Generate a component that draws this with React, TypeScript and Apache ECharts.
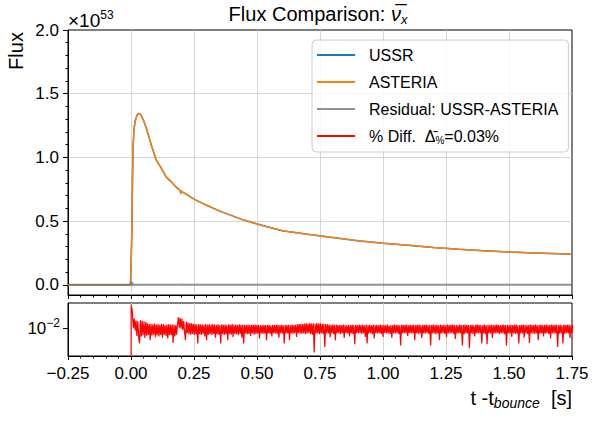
import React, { useEffect, useRef } from 'react';
import * as echarts from 'echarts';

const FONT = '"Liberation Sans", Arial, sans-serif';

// Flux (units of 1e53)
const fluxTime = [-0.25, -0.002, 0.0, 0.003, 0.006, 0.009, 0.012, 0.016, 0.02, 0.025, 0.03, 0.035, 0.04, 0.05, 0.06, 0.07, 0.08, 0.09, 0.1, 0.12, 0.14, 0.16, 0.18, 0.195, 0.198, 0.2, 0.205, 0.22, 0.25, 0.3, 0.35, 0.4, 0.45, 0.5, 0.6, 0.7, 0.8, 0.9, 1.0, 1.1, 1.2, 1.3, 1.4, 1.5, 1.6, 1.7, 1.75];
const fluxASTERIA = [0, 0, 0, 0.35, 0.8, 1.1, 1.22, 1.28, 1.31, 1.335, 1.345, 1.342, 1.33, 1.29, 1.232, 1.17, 1.1, 1.04, 0.98, 0.915, 0.845, 0.808, 0.765, 0.74, 0.715, 0.735, 0.728, 0.71, 0.673, 0.624, 0.58, 0.543, 0.506, 0.478, 0.424, 0.396, 0.371, 0.346, 0.326, 0.31, 0.293, 0.279, 0.268, 0.258, 0.25, 0.243, 0.24];
const fluxUSSR = [0, 0, 0, 0.4, 0.84, 1.12, 1.22, 1.28, 1.31, 1.335, 1.345, 1.342, 1.33, 1.29, 1.232, 1.17, 1.1, 1.04, 0.98, 0.915, 0.845, 0.808, 0.765, 0.74, 0.715, 0.735, 0.728, 0.71, 0.673, 0.624, 0.58, 0.543, 0.506, 0.478, 0.424, 0.396, 0.371, 0.346, 0.326, 0.31, 0.293, 0.279, 0.268, 0.258, 0.25, 0.243, 0.24];

// Residual (units of 1e53)
const residualTime = [-0.25, 0, 0.002, 0.004, 0.007, 0.01, 0.2, 0.202, 0.204, 1.75];
const residualValue = [0, 0, 0.025, -0.01, 0.012, 0, 0, 0.006, 0, 0];

// Percent difference
const diffHeadTime = [0, 0.0006, 0.002, 0.0035];
const diffHeadValue = [0.0001, 0.0228, 0.0185, 0.0205];
const diffStart = 0.006;
const diffStep = 0.0035;
const diffValue = [
  0.0160, 0.0100, 0.0140, 0.0092, 0.0130, 0.0076, 0.0128, 0.0072, 0.0059, 0.0132,
  0.0075, 0.0129, 0.0078, 0.0126, 0.0071, 0.0124, 0.0077, 0.0118, 0.0079, 0.0115,
  0.0066, 0.0116, 0.0077, 0.0114, 0.0080, 0.0117, 0.0073, 0.0113, 0.0078, 0.0115,
  0.0075, 0.0112, 0.0079, 0.0116, 0.0072, 0.0114, 0.0080, 0.0111, 0.0076, 0.0113,
  0.0070, 0.0115, 0.0078, 0.0112, 0.0079, 0.0114, 0.0060, 0.0113, 0.0075, 0.0111,
  0.0080, 0.0114, 0.0146, 0.0102, 0.0143, 0.0098, 0.0139, 0.0094, 0.0128, 0.0088,
  0.0066, 0.0125, 0.0084, 0.0122, 0.0081, 0.0120, 0.0080, 0.0118, 0.0082, 0.0116,
  0.0079, 0.0115, 0.0081, 0.0114, 0.0059, 0.0115, 0.0082, 0.0113, 0.0079, 0.0114,
  0.0082, 0.0112, 0.0075, 0.0115, 0.0066, 0.0113, 0.0080, 0.0114, 0.0081, 0.0112,
  0.0079, 0.0115, 0.0082, 0.0113, 0.0072, 0.0112, 0.0081, 0.0114, 0.0080, 0.0111,
  0.0059, 0.0114, 0.0082, 0.0112, 0.0079, 0.0113, 0.0081, 0.0111, 0.0066, 0.0114,
  0.0082, 0.0112, 0.0080, 0.0115, 0.0074, 0.0112, 0.0082, 0.0113, 0.0081, 0.0111,
  0.0079, 0.0114, 0.0082, 0.0112, 0.0072, 0.0113, 0.0059, 0.0112, 0.0083, 0.0111,
  0.0081, 0.0113, 0.0082, 0.0111, 0.0076, 0.0112, 0.0083, 0.0111, 0.0080, 0.0113,
  0.0082, 0.0111, 0.0083, 0.0112, 0.0070, 0.0111, 0.0084, 0.0110, 0.0082, 0.0112,
  0.0083, 0.0111, 0.0066, 0.0112, 0.0084, 0.0111, 0.0082, 0.0110, 0.0075, 0.0112,
  0.0084, 0.0111, 0.0083, 0.0112, 0.0082, 0.0113, 0.0072, 0.0111, 0.0084, 0.0112,
  0.0083, 0.0110, 0.0059, 0.0112, 0.0084, 0.0111, 0.0083, 0.0112, 0.0066, 0.0111,
  0.0084, 0.0113, 0.0082, 0.0111, 0.0085, 0.0112, 0.0074, 0.0114, 0.0084, 0.0115,
  0.0083, 0.0116, 0.0082, 0.0115, 0.0084, 0.0117, 0.0081, 0.0118, 0.0083, 0.0116,
  0.0084, 0.0119, 0.0082, 0.0117, 0.0080, 0.0118, 0.0043, 0.0116, 0.0084, 0.0119,
  0.0083, 0.0117, 0.0081, 0.0118, 0.0084, 0.0116, 0.0082, 0.0117, 0.0052, 0.0115,
  0.0084, 0.0114, 0.0083, 0.0113, 0.0073, 0.0112, 0.0084, 0.0113, 0.0082, 0.0112,
  0.0066, 0.0113, 0.0084, 0.0111, 0.0083, 0.0112, 0.0082, 0.0110, 0.0084, 0.0113,
  0.0071, 0.0112, 0.0085, 0.0110, 0.0083, 0.0112, 0.0075, 0.0111, 0.0084, 0.0113,
  0.0082, 0.0111, 0.0057, 0.0112, 0.0084, 0.0110, 0.0083, 0.0113, 0.0085, 0.0111,
  0.0082, 0.0112, 0.0084, 0.0110, 0.0074, 0.0113, 0.0059, 0.0111, 0.0083, 0.0112,
  0.0084, 0.0110, 0.0082, 0.0113, 0.0070, 0.0111, 0.0085, 0.0112, 0.0083, 0.0110,
  0.0084, 0.0113, 0.0082, 0.0111, 0.0074, 0.0112, 0.0085, 0.0110, 0.0083, 0.0113,
  0.0084, 0.0109, 0.0082, 0.0112, 0.0072, 0.0111, 0.0084, 0.0113, 0.0083, 0.0111,
  0.0085, 0.0112, 0.0082, 0.0110, 0.0055, 0.0113, 0.0084, 0.0111, 0.0083, 0.0112,
  0.0084, 0.0113, 0.0076, 0.0110, 0.0085, 0.0112, 0.0083, 0.0111, 0.0084, 0.0113,
  0.0066, 0.0111, 0.0084, 0.0112, 0.0082, 0.0113, 0.0083, 0.0110, 0.0071, 0.0112,
  0.0084, 0.0111, 0.0083, 0.0113, 0.0085, 0.0110, 0.0082, 0.0112, 0.0055, 0.0111,
  0.0084, 0.0113, 0.0083, 0.0111, 0.0081, 0.0112, 0.0084, 0.0110, 0.0066, 0.0113,
  0.0083, 0.0111, 0.0085, 0.0112, 0.0082, 0.0110, 0.0073, 0.0113, 0.0084, 0.0111,
  0.0083, 0.0112, 0.0085, 0.0113, 0.0082, 0.0111, 0.0069, 0.0112, 0.0084, 0.0110,
  0.0083, 0.0113, 0.0084, 0.0111, 0.0055, 0.0112, 0.0082, 0.0113, 0.0084, 0.0111,
  0.0083, 0.0112, 0.0050, 0.0111, 0.0084, 0.0113, 0.0082, 0.0110, 0.0075, 0.0112,
  0.0084, 0.0113, 0.0083, 0.0111, 0.0085, 0.0112, 0.0059, 0.0110, 0.0084, 0.0113,
  0.0082, 0.0111, 0.0057, 0.0112, 0.0084, 0.0110, 0.0083, 0.0113, 0.0071, 0.0111,
  0.0084, 0.0112, 0.0083, 0.0113, 0.0085, 0.0111, 0.0082, 0.0110, 0.0084, 0.0112,
  0.0083, 0.0113, 0.0081, 0.0111, 0.0055, 0.0112, 0.0084, 0.0110, 0.0083, 0.0113,
  0.0074, 0.0111, 0.0084, 0.0112, 0.0082, 0.0113, 0.0083, 0.0110, 0.0059, 0.0112,
  0.0084, 0.0111, 0.0083, 0.0113, 0.0072, 0.0112, 0.0084, 0.0110, 0.0082, 0.0111,
  0.0060, 0.0113, 0.0084, 0.0112, 0.0083, 0.0111, 0.0082, 0.0113, 0.0084, 0.0110,
  0.0066, 0.0112, 0.0083, 0.0113, 0.0084, 0.0111, 0.0075, 0.0112, 0.0083, 0.0113,
  0.0084, 0.0110, 0.0082, 0.0112, 0.0070, 0.0113, 0.0084, 0.0111, 0.0083, 0.0112,
  0.0084, 0.0113, 0.0052, 0.0111, 0.0083, 0.0112, 0.0084, 0.0110, 0.0059, 0.0113,
  0.0082, 0.0111, 0.0084, 0.0112, 0.0083, 0.0113, 0.0071, 0.0111, 0.0084, 0.0112,
];

const fluxMajorTicks = [0, 0.5, 1.0, 1.5, 2.0];
const fluxMinorTicks = [0.1, 0.2, 0.3, 0.4, 0.6, 0.7, 0.8, 0.9, 1.1, 1.2, 1.3, 1.4, 1.6, 1.7, 1.8, 1.9];
const diffTicks = [0.01];

const seriesNames = ['USSR', 'ASTERIA', 'Residual: USSR-ASTERIA', '% Diff.'];
const colors = ['#1f77b4', '#ff7f0e', 'rgba(110,110,110,0.75)', '#ff0000'];

export default function App() {
  const ref = useRef<HTMLDivElement>(null);
  useEffect(() => {
    if (!ref.current) return;
    const chart = echarts.init(ref.current, undefined, { renderer: 'svg' });

    const diffData: number[][] = diffHeadTime.map((t, i) => [t, diffHeadValue[i]]);
    diffValue.forEach((v, i) => diffData.push([diffStart + diffStep * i, v]));

    const xFmt = (v: number) => (v < 0 ? '\u2212' : '') + Math.abs(v).toFixed(2);
    const tickColor = { color: '#000', width: 1 };
    const gridLine = { color: '#cccccc', width: 0.8 };

    const baseX = {
      type: 'value',
      min: -0.25,
      max: 1.75,
      interval: 0.25,
      axisLine: { show: true, onZero: false, lineStyle: { color: '#000', width: 1 } },
      axisTick: { show: true, inside: false, length: 4, lineStyle: tickColor },
      minorTick: { show: true, splitNumber: 5, length: 2.5, lineStyle: tickColor },
      splitLine: { show: true, showMinLine: false, showMaxLine: false, lineStyle: gridLine },
    };

    const option: any = {
      animation: false,
      backgroundColor: '#ffffff',
      textStyle: { fontFamily: FONT },
      grid: [
        { left: 68, top: 30, width: 504, height: 265, show: true, borderColor: '#000', borderWidth: 1, backgroundColor: 'transparent' },
        { left: 68, top: 303, width: 504, height: 53, show: true, borderColor: '#000', borderWidth: 1, backgroundColor: 'transparent' },
      ],
      xAxis: [
        { ...baseX, gridIndex: 0, axisLabel: { show: false } },
        { ...baseX, gridIndex: 1, axisLabel: { show: true, fontSize: 17, color: '#000', fontFamily: FONT, margin: 9, formatter: xFmt } },
      ],
      yAxis: [
        {
          type: 'value', gridIndex: 0, min: -0.08, max: 2.0, position: 'left',
          axisLine: { show: true, onZero: false, lineStyle: { color: '#000', width: 1 } },
          axisTick: { show: true, length: 5, customValues: fluxMajorTicks, lineStyle: tickColor },
          axisLabel: { show: true, customValues: fluxMajorTicks, fontSize: 17, color: '#000', fontFamily: FONT, margin: 9, formatter: (v: number) => v.toFixed(1) },
          splitLine: { show: true, showMinLine: false, showMaxLine: false, lineStyle: gridLine },
        },
        {
          type: 'value', gridIndex: 0, min: -0.08, max: 2.0, position: 'left',
          axisLine: { show: false, onZero: false },
          axisTick: { show: true, length: 2.5, customValues: fluxMinorTicks, lineStyle: tickColor },
          axisLabel: { show: false },
          splitLine: { show: false },
        },
        {
          type: 'log', logBase: 10, gridIndex: 1, min: 0.0038, max: 0.024, position: 'left',
          axisLine: { show: true, onZero: false, lineStyle: { color: '#000', width: 1 } },
          axisTick: { show: true, length: 5, customValues: diffTicks, lineStyle: tickColor },
          axisLabel: {
            show: true, showMinLabel: false, showMaxLabel: false, margin: 8, color: '#000',
            formatter: (v: number) => (Math.abs(Math.log10(v) + 2) < 1e-6 ? '{b|10}{p|\u22122}' : ''),
            rich: {
              b: { fontSize: 17, fontFamily: FONT, color: '#000', lineHeight: 22 },
              p: { fontSize: 12, fontFamily: FONT, color: '#000', lineHeight: 12, verticalAlign: 'top' },
            },
          },
          splitLine: { show: true, showMinLine: false, showMaxLine: false, lineStyle: gridLine },
        },
      ],
      legend: {
        orient: 'vertical',
        left: 312,
        top: 40,
        data: seriesNames,
        selectedMode: false,
        icon: 'rect',
        itemWidth: 38,
        itemHeight: 2,
        itemGap: 9,
        padding: [6, 10, 7, 5],
        backgroundColor: 'rgba(255,255,255,0.8)',
        borderColor: '#cccccc',
        borderWidth: 1,
        borderRadius: 4,
        formatter: (name: string) => (name === '% Diff.' ? '% Diff.  {d|\u0394\u0304}{s|%}=0.03%' : name),
        textStyle: {
          fontSize: 16,
          fontFamily: FONT,
          color: '#000',
          lineHeight: 18,
          padding: [0, 0, 0, 9],
          rich: {
            d: { fontSize: 16, fontFamily: FONT, color: '#000', lineHeight: 18 },
            s: { fontSize: 10, fontFamily: FONT, color: '#000', lineHeight: 10, verticalAlign: 'bottom' },
          },
        },
      },
      graphic: [
        {
          type: 'text', x: 318, y: 14,
          style: {
            text: '{m|Flux Comparison: }{i|\u03bd\u0305}{s|x}',
            fontSize: 20, fontFamily: FONT, fill: '#000', lineHeight: 24,
            textAlign: 'center', textVerticalAlign: 'middle',
            rich: {
              m: { fontSize: 20, fontFamily: FONT, lineHeight: 24 },
              i: { fontSize: 20, fontFamily: FONT, fontStyle: 'italic', lineHeight: 24 },
              s: { fontSize: 13, fontFamily: FONT, fontStyle: 'italic', lineHeight: 13, verticalAlign: 'bottom' },
            },
          },
        },
        {
          type: 'text', x: 16, y: 51, rotation: Math.PI / 2,
          style: { text: 'Flux', fontSize: 20, fontFamily: FONT, fill: '#000', textAlign: 'center', textVerticalAlign: 'middle' },
        },
        {
          type: 'text', x: 68, y: 20,
          style: {
            text: '{m|\u00d710}{p|53}', fontSize: 19, fontFamily: FONT, fill: '#000', lineHeight: 22,
            textAlign: 'left', textVerticalAlign: 'middle',
            rich: {
              m: { fontSize: 19, fontFamily: FONT, lineHeight: 22 },
              p: { fontSize: 12, fontFamily: FONT, lineHeight: 12, verticalAlign: 'top' },
            },
          },
        },
        {
          type: 'text', x: 572, y: 398,
          style: {
            text: '{m|t -t}{s|bounce}{m|  [s]}', fontSize: 20, fontFamily: FONT, fill: '#000', lineHeight: 24,
            textAlign: 'right', textVerticalAlign: 'middle',
            rich: {
              m: { fontSize: 20, fontFamily: FONT, lineHeight: 24 },
              s: { fontSize: 14, fontFamily: FONT, fontStyle: 'italic', lineHeight: 14, verticalAlign: 'bottom' },
            },
          },
        },
      ],
      series: [
        {
          name: seriesNames[0], type: 'line', xAxisIndex: 0, yAxisIndex: 0, symbol: 'none', showSymbol: false,
          data: fluxTime.map((t, i) => [t, fluxUSSR[i]]),
          lineStyle: { color: colors[0], width: 1.5 }, itemStyle: { color: colors[0] },
        },
        {
          name: seriesNames[1], type: 'line', xAxisIndex: 0, yAxisIndex: 0, symbol: 'none', showSymbol: false,
          data: fluxTime.map((t, i) => [t, fluxASTERIA[i]]),
          lineStyle: { color: colors[1], width: 1.5 }, itemStyle: { color: colors[1] },
        },
        {
          name: seriesNames[2], type: 'line', xAxisIndex: 0, yAxisIndex: 0, symbol: 'none', showSymbol: false,
          data: residualTime.map((t, i) => [t, residualValue[i]]),
          lineStyle: { color: colors[2], width: 2 }, itemStyle: { color: colors[2] },
        },
        {
          name: seriesNames[3], type: 'line', xAxisIndex: 1, yAxisIndex: 2, symbol: 'none', showSymbol: false,
          data: diffData,
          lineStyle: { color: colors[3], width: 1.2 }, itemStyle: { color: colors[3] },
        },
      ],
    };

    chart.setOption(option);
    return () => chart.dispose();
  }, []);

  return <div ref={ref} style={{ position: 'fixed', left: 0, top: 0, width: 594, height: 421 }} />;
}
